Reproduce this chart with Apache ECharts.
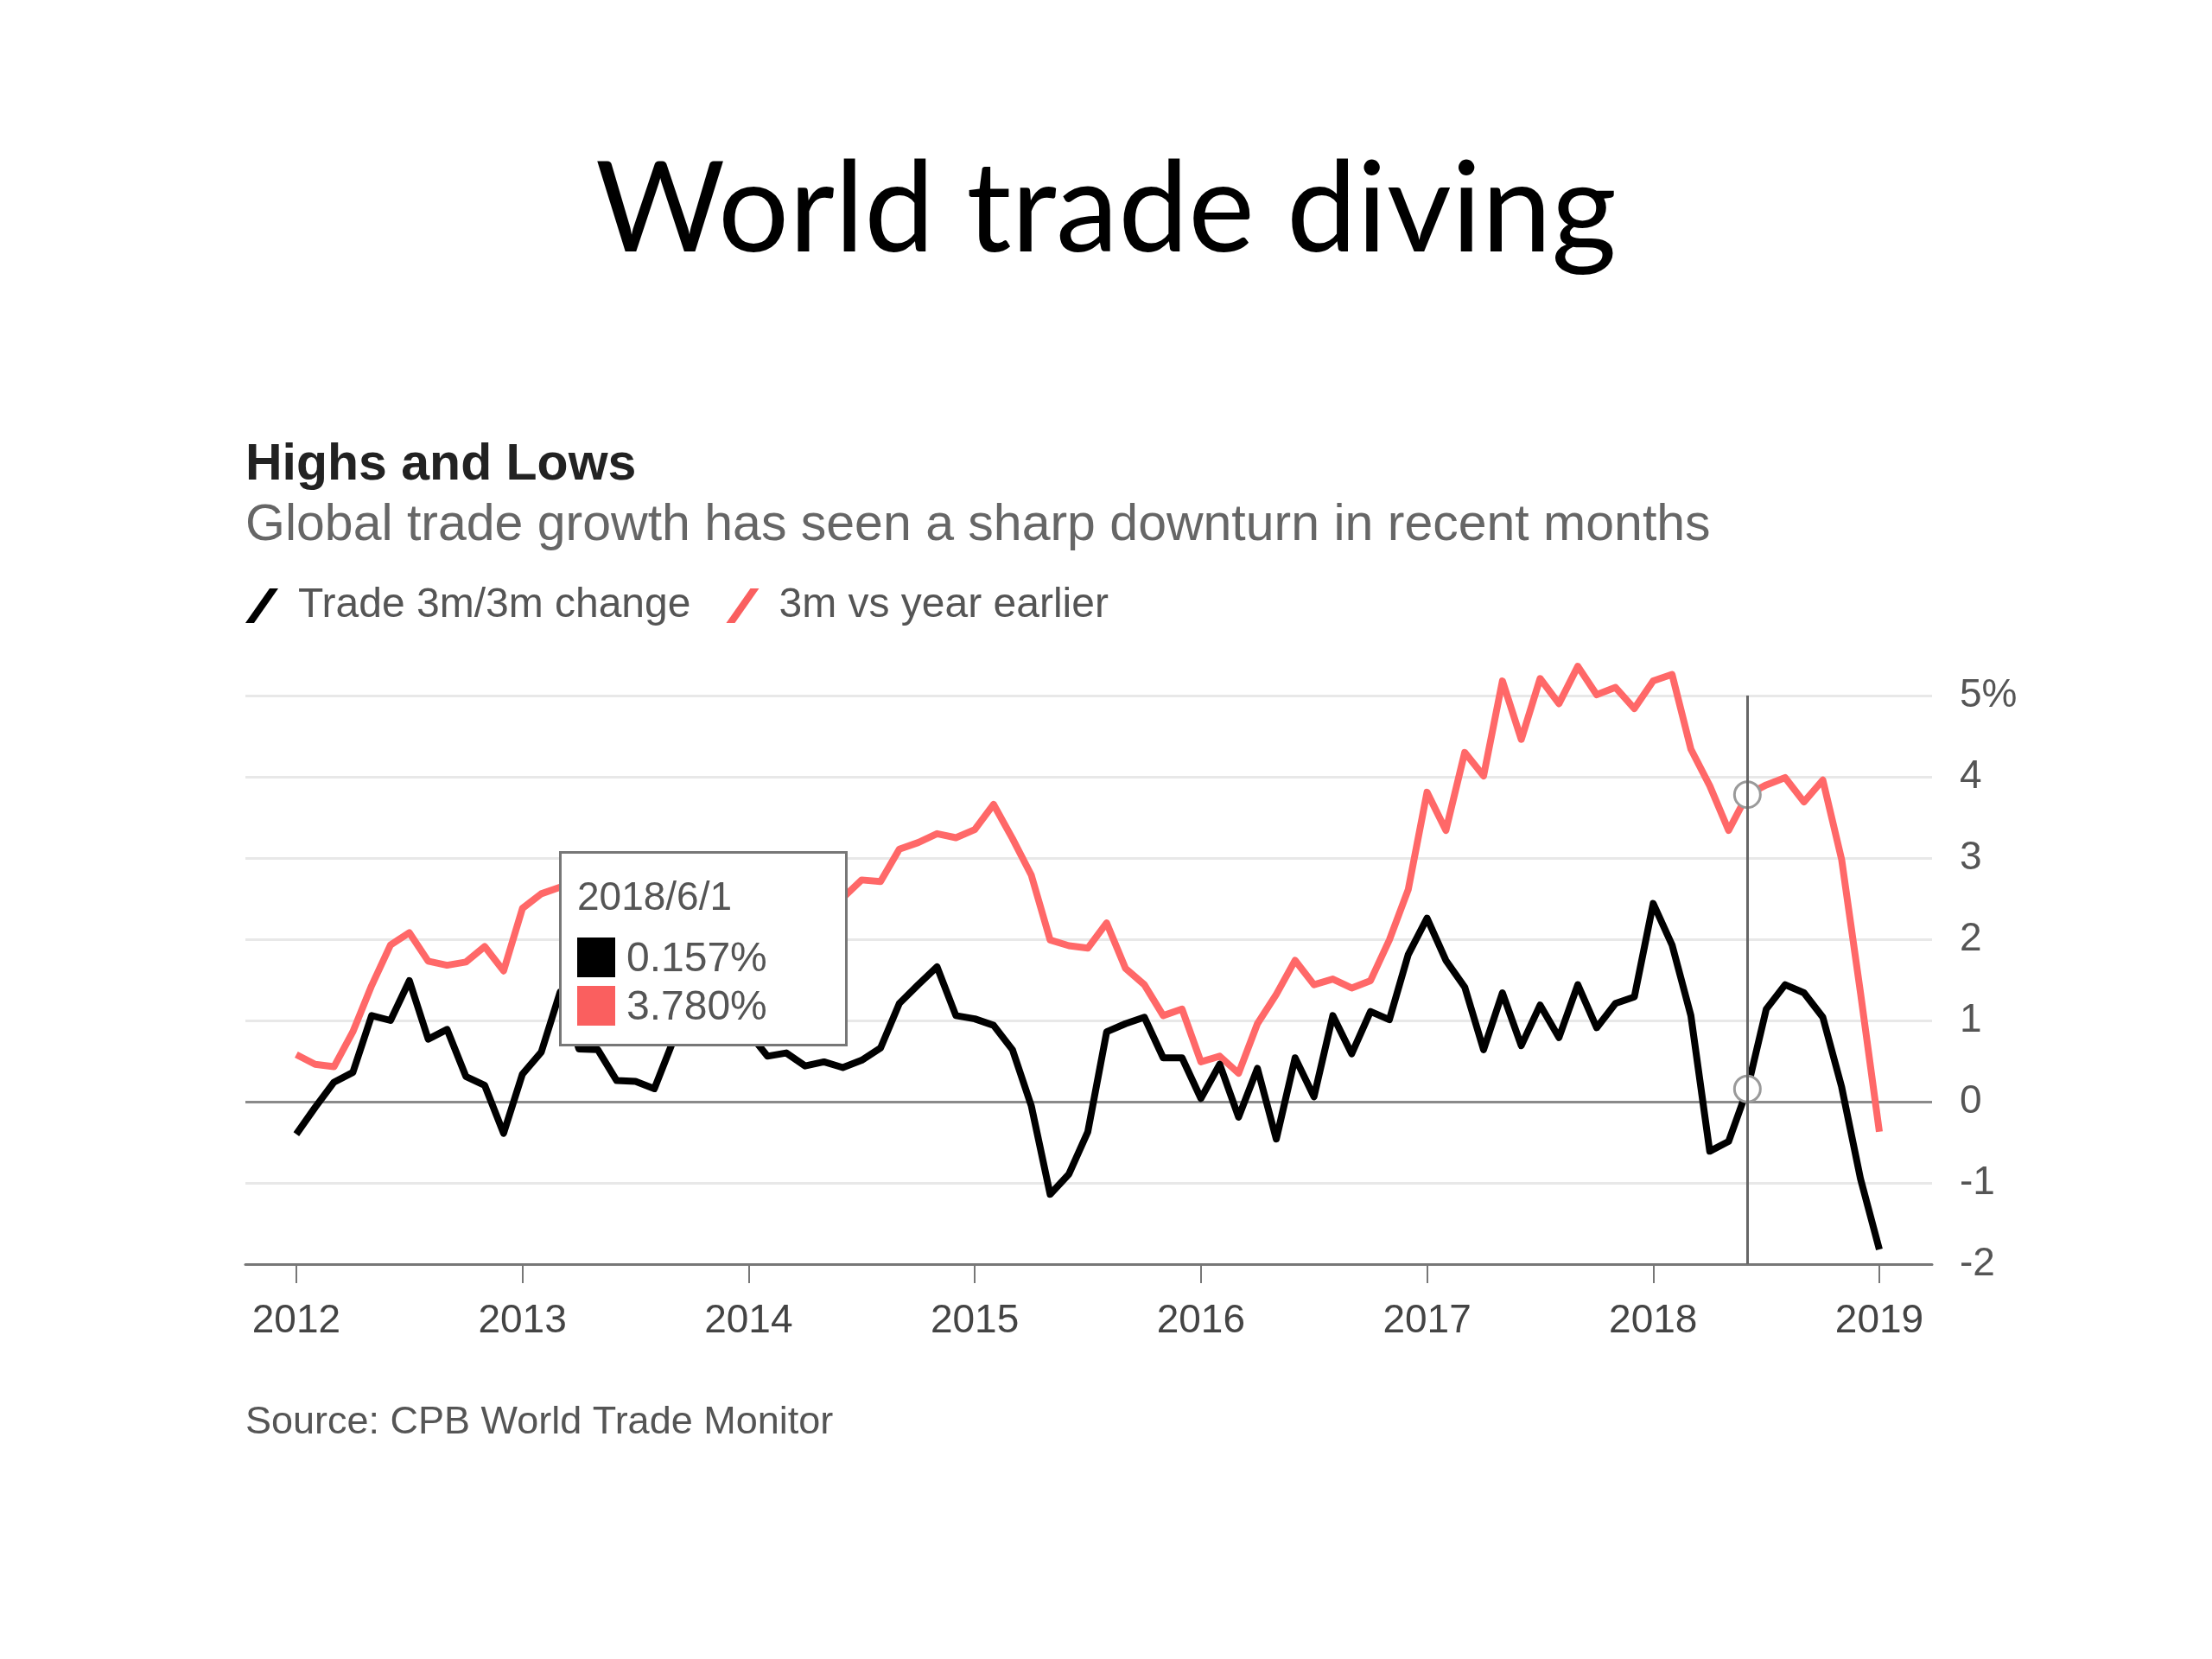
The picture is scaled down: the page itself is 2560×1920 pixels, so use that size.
<!DOCTYPE html>
<html>
<head>
<meta charset="utf-8">
<title>World trade diving</title>
<script src="https://cdn.jsdelivr.net/npm/echarts@6/dist/echarts.min.js"></script>
<style>
html, body { margin: 0; padding: 0; background: #fff; }
#main { width: 2560px; height: 1920px; }
</style>
</head>
<body>
<div id="main"></div>
<script>
// monthly series, first point is Jan 2012, last is Jan 2019
var startYear = 2012;
var yearTicks = [2012, 2013, 2014, 2015, 2016, 2017, 2018, 2019];
var seriesNames = ['Trade 3m/3m change', '3m vs year earlier'];
var seriesColors = ['#000000', '#fa5f5f'];
var pickedIndex = 77; // 2018/6/1, the point shown in the tooltip

var trade3m3m = [
	-0.40, -0.07, 0.24, 0.36, 1.06, 1.00, 1.49, 0.77, 0.89, 0.31, 0.20, -0.39,
	0.34, 0.61, 1.35, 0.65, 0.64, 0.26, 0.25, 0.16, 0.75, 1.05, 1.20, 0.95,
	0.85, 0.56, 0.60, 0.44, 0.49, 0.42, 0.51, 0.66, 1.21, 1.44, 1.66, 1.06,
	1.02, 0.94, 0.64, -0.05, -1.14, -0.89, -0.37, 0.86, 0.96, 1.04, 0.54, 0.54,
	0.04, 0.46, -0.19, 0.41, -0.46, 0.54, 0.06, 1.06, 0.59, 1.11, 1.01, 1.81,
	2.26, 1.74, 1.41, 0.64, 1.34, 0.69, 1.19, 0.79, 1.44, 0.91, 1.21, 1.29,
	2.44, 1.93, 1.06, -0.61, -0.49, 0.157, 1.14, 1.44, 1.34, 1.04, 0.18, -0.95,
	-1.82
];
var trade3mYoY = [
	0.58, 0.46, 0.43, 0.86, 1.43, 1.93, 2.08, 1.73, 1.68, 1.72, 1.91, 1.61,
	2.38, 2.56, 2.64, 2.55, 2.70, 2.45, 2.30, 2.50, 2.75, 2.90, 2.80, 2.95,
	2.85, 2.60, 2.45, 2.55, 2.35, 2.51, 2.73, 2.71, 3.11, 3.19, 3.30, 3.25,
	3.35, 3.66, 3.24, 2.79, 1.99, 1.92, 1.89, 2.20, 1.64, 1.44, 1.06, 1.14,
	0.49, 0.56, 0.35, 0.96, 1.32, 1.74, 1.44, 1.51, 1.40, 1.49, 1.99, 2.61,
	3.81, 3.34, 4.30, 4.01, 5.18, 4.46, 5.21, 4.90, 5.36, 5.01, 5.10, 4.84,
	5.18, 5.26, 4.34, 3.89, 3.34, 3.78, 3.90, 3.99, 3.69, 3.96, 2.98, 1.34,
	-0.37
];

var baseFont = "'Liberation Sans', Arial, sans-serif";

function monthX(i) {
	return startYear + i / 12;
}
function monthLabel(i) {
	return (startYear + Math.floor(i / 12)) + '/' + (i % 12 + 1) + '/1';
}
function toPoints(values) {
	return values.map(function (v, i) { return [monthX(i), v]; });
}

function tipFormatter(params) {
	var i = params[0].dataIndex;
	var html = '<div style="width:328px;height:220px;box-sizing:border-box;padding:19px 0 0 18px;'
		+ 'font-family:' + baseFont + ';color:#555;white-space:nowrap;">';
	html += '<div style="font-size:46px;line-height:60px;height:60px;">' + monthLabel(i) + '</div>';
	html += '<div style="height:18px"></div>';
	params.forEach(function (p) {
		html += '<div style="display:flex;align-items:center;height:46px;margin-bottom:10px;">'
			+ '<span style="display:inline-block;width:44px;height:46px;margin-right:13px;background:'
			+ seriesColors[p.seriesIndex] + ';"></span>'
			+ '<span style="font-size:48px;line-height:46px;">' + p.value[1].toFixed(3) + '%</span></div>';
	});
	html += '</div>';
	return html;
}

function lineSeries(k, values) {
	return {
		name: seriesNames[k],
		type: 'line',
		data: toPoints(values),
		showSymbol: false,
		symbol: 'circle',
		symbolSize: 30,
		clip: false,
		z: k === 0 ? 4 : 3,
		lineStyle: { color: seriesColors[k], width: 8, join: 'round' },
		itemStyle: { color: seriesColors[k] },
		emphasis: {
			scale: false,
			lineStyle: { width: 8 },
			itemStyle: { color: '#ffffff', borderColor: '#9a9a9a', borderWidth: 3 }
		}
	};
}

var myChart = echarts.init(document.getElementById('main'));

var series_arr = [lineSeries(0, trade3m3m), lineSeries(1, trade3mYoY)];
series_arr[0].markLine = {
	silent: true,
	symbol: 'none',
	z: 1,
	animation: false,
	label: { show: false },
	lineStyle: { color: '#8a8a8a', width: 3, type: 'solid' },
	emphasis: { disabled: true },
	data: [{ yAxis: 0 }]
};

option = {
	animation: false,
	backgroundColor: '#ffffff',
	textStyle: { fontFamily: baseFont },
	title: [
		{
			text: 'World trade diving',
			left: 'center',
			top: 172,
			padding: 0,
			textStyle: { fontFamily: 'Lato', fontWeight: 'normal', fontSize: 145, color: '#000' }
		},
		{
			text: 'Highs and Lows',
			left: 284,
			top: 509,
			padding: 0,
			textStyle: { fontFamily: baseFont, fontWeight: 'bold', fontSize: 59, color: '#222' }
		},
		{
			text: 'Global trade growth has seen a sharp downturn in recent months',
			left: 284,
			top: 579,
			padding: 0,
			textStyle: { fontFamily: baseFont, fontWeight: 'normal', fontSize: 59, color: '#666' }
		},
		{
			text: 'Source: CPB World Trade Monitor',
			left: 284,
			top: 1624,
			padding: 0,
			textStyle: { fontFamily: baseFont, fontWeight: 'normal', fontSize: 45, color: '#555' }
		}
	],
	legend: {
		left: 284,
		top: 677,
		padding: 0,
		itemWidth: 38,
		itemHeight: 40,
		itemGap: 41,
		selectedMode: false,
		icon: 'path://M0,40 L28,0 L38,0 L10,40 Z',
		itemStyle: { borderWidth: 0 },
		textStyle: { fontFamily: baseFont, fontSize: 48, color: '#555', padding: [0, 0, 0, 18] },
		data: seriesNames
	},
	grid: {
		left: 284,
		right: 324,
		top: 805,
		bottom: 457,
		containLabel: false
	},
	tooltip: {
		trigger: 'axis',
		triggerOn: 'none',
		alwaysShowContent: true,
		transitionDuration: 0,
		position: [647, 985],
		padding: 0,
		borderWidth: 3,
		borderColor: '#777',
		borderRadius: 0,
		backgroundColor: '#fff',
		extraCssText: 'box-shadow:none;',
		axisPointer: {
			type: 'line',
			animation: false,
			lineStyle: { color: '#666', width: 3, type: 'solid' }
		},
		formatter: tipFormatter
	},
	xAxis: {
		type: 'value',
		min: 2011.775,
		max: 2019.233,
		splitLine: { show: false },
		axisLine: { onZero: false, lineStyle: { color: '#777', width: 3 } },
		axisTick: { customValues: yearTicks, length: 22, lineStyle: { color: '#777', width: 2 } },
		axisLabel: {
			customValues: yearTicks,
			margin: 43,
			fontSize: 46,
			color: '#444',
			formatter: function (v) { return String(Math.round(v)); }
		}
	},
	yAxis: {
		type: 'value',
		position: 'right',
		min: -2,
		max: 5,
		interval: 1,
		axisLine: { show: false },
		axisTick: { show: false },
		splitLine: { lineStyle: { color: '#e8e8e8', width: 3 } },
		axisLabel: {
			margin: 32,
			fontSize: 46,
			color: '#555',
			formatter: function (v) { return v === 5 ? '5%' : String(v); }
		}
	},
	series: series_arr
};
myChart.setOption(option);
myChart.dispatchAction({ type: 'showTip', seriesIndex: 0, dataIndex: pickedIndex });
</script>
</body>
</html>
